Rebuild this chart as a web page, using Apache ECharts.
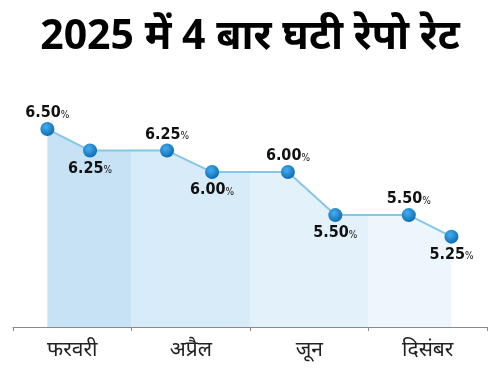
<!DOCTYPE html>
<html>
<head>
<meta charset="utf-8">
<script src="https://cdn.jsdelivr.net/npm/echarts@6/dist/echarts.min.js"></script>
<style>
  html, body { margin: 0; padding: 0; background: #fff; }
  #chart { width: 500px; height: 375px; }
</style>
</head>
<body>
<div id="chart"></div>
<script>
// 数据
const months = ["फरवरी", "अप्रैल", "जून", "दिसंबर"]
// 每个点在横轴上的位置 (单位 = 一个月份区间)
const pointPos = [0.29, 0.65, 1.3, 1.68, 2.32, 2.72, 3.34, 3.7]
const rates = [6.5, 6.25, 6.25, 6.0, 6.0, 5.5, 5.5, 5.25]
const bandColors = ["#c6e2f4", "#d8ebf8", "#e3f1fa", "#edf6fc"]

const chart = echarts.init(document.getElementById("chart"))

const points = rates.map((v, i) => [pointPos[i], v])

// 标签 上下交替
const labelled = rates.map((v, i) => ({
  value: [pointPos[i], v],
  label: {
    position: i % 2 === 0 ? "top" : "bottom",
    distance: i % 2 === 0 ? 1 : 3,
    formatter: "{a|" + v.toFixed(2) + "}{b|%}",
  },
}))

const option = {
  animation: false,
  title: {
    text: "2025 में 4 बार घटी रेपो रेट",
    left: "center",
    top: 12,
    textStyle: { fontSize: 41, fontWeight: "bold", color: "#000", fontFamily: "Noto Sans, sans-serif" },
  },
  grid: { left: 13, right: 13, top: 86, bottom: 48 },
  xAxis: [
    {
      type: "value", min: 0, max: 4,
      show: false,
    },
    {
      type: "category", data: months, position: "bottom",
      boundaryGap: true,
      axisLine: { lineStyle: { color: "#8a8a8a", width: 1 } },
      axisTick: { show: true, length: 4, lineStyle: { color: "#8a8a8a" } },
      axisLabel: { color: "#222", fontSize: 21, margin: 13, fontFamily: "Noto Sans, sans-serif" },
    },
  ],
  yAxis: {
    type: "value", min: 4.2, max: 7.0,
    show: false,
  },
  visualMap: {
    type: "piecewise", show: false, dimension: 0, seriesIndex: 0,
    pieces: bandColors.map((c, i) => ({ gte: i, lt: i + 1, color: c })),
  },
  series: [
    {
      // 区域填充
      type: "line",
      data: points,
      showSymbol: false,
      lineStyle: { width: 0 },
      areaStyle: { opacity: 1 },
      silent: true,
      z: 1,
    },
    {
      type: "line",
      data: labelled,
      z: 3,
      lineStyle: { color: "#86c6ea", width: 2 },
      symbol: "circle",
      symbolSize: 14,
      itemStyle: {
        color: new echarts.graphic.RadialGradient(0.4, 0.35, 0.7, [
          { offset: 0, color: "#45aef0" },
          { offset: 1, color: "#0a68b0" },
        ]),
      },
      label: {
        show: true,
        rich: {
          a: { fontFamily: "DejaVu Sans Condensed, DejaVu Sans, sans-serif", fontWeight: "bold", fontSize: 16, color: "#111" },
          b: { fontFamily: "DejaVu Sans Condensed, DejaVu Sans, sans-serif", fontSize: 10, color: "#111", padding: [4, 0, 0, 0] },
        },
      },
    },
  ],
}

chart.setOption(option)
</script>
</body>
</html>
